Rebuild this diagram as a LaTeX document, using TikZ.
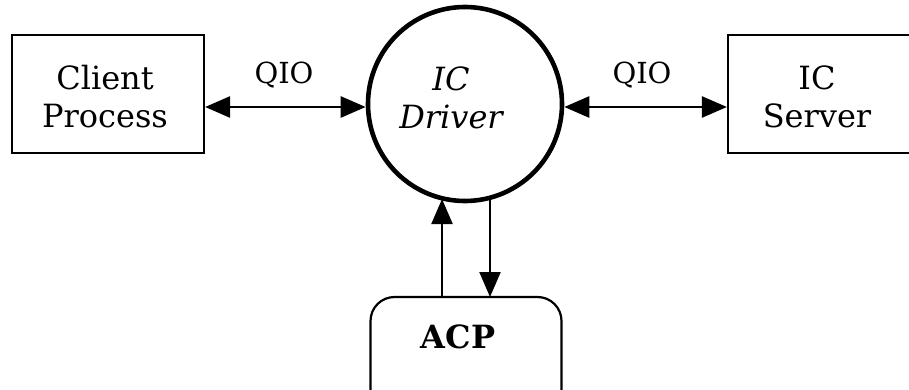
\documentclass[tikz,border=0pt]{standalone}
\usepackage{fontspec}
\setmainfont{DejaVu Serif}
\usetikzlibrary{arrows.meta}
\tikzset{head/.tip={Triangle[length=25pt,width=21pt]}}
\begin{document}
\begin{tikzpicture}[x=1pt,y=-1pt,
  box/.style={draw, line width=2.2pt, minimum width=192pt, minimum height=118pt, inner sep=0pt},
  drv/.style={draw, circle, line width=4.6pt, minimum size=194pt, inner sep=0pt},
  acpbox/.style={draw, line width=2.2pt, rounded corners=24pt, minimum width=191pt, minimum height=120pt, inner sep=0pt},
  lbl/.style={font=\fontsize{32}{38}\selectfont, align=center},
  qio/.style={font=\fontsize{29}{34}\selectfont},
  flow/.style={line width=2.2pt, -{head}},
  flow2/.style={line width=2.6pt, {head}-{head}}]
\useasboundingbox (0,0) rectangle (909,390);
\clip (0,0) rectangle (909,390);
% nodes
\node[box] (client) at (108,94) {};
\node[lbl] at (105,97) {Client\\Process};
\node[drv] (drv) at (465,104) {};
\node[lbl, font=\fontsize{32}{38}\selectfont\itshape] at (451,98) {IC\\Driver};
\node[box] (server) at (824,94) {};
\node[lbl] at (817,97) {IC\\Server};
\node[acpbox] (acp) at (466,357) {};
\node[font=\fontsize{32}{38}\selectfont\bfseries] at (458,337) {ACP};
% labels on the QIO links
\node[qio] (q1) at (284,75) {QIO};
\node[qio] (q2) at (642,75) {QIO};
% connectors
\coordinate (cl) at (client.east |- 0,107);
\coordinate (dl) at (drv.west |- 0,107);
\coordinate (dr) at (drv.east |- 0,107);
\coordinate (sl) at (server.west |- 0,107);
\draw[flow2] (cl) -- (dl);
\draw[flow2] (dr) -- (sl);
\coordinate (upb) at (442,297);
\coordinate (upt) at (442,199);
\coordinate (dnt) at (490,199);
\coordinate (dnb) at (490,297);
\draw[flow] (upb) -- (upt);
\draw[flow] (dnt) -- (dnb);
\end{tikzpicture}
\end{document}
